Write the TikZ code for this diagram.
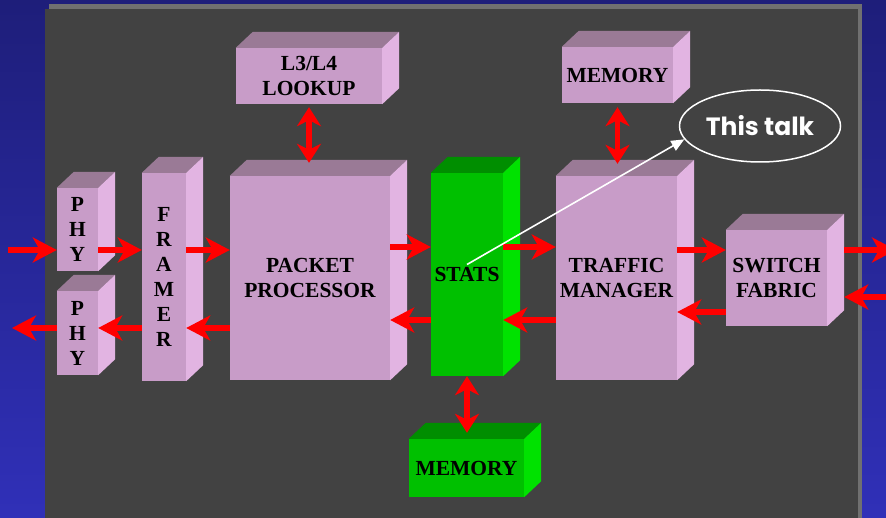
\documentclass[tikz,border=0pt]{standalone}
\usepackage{fontspec}
\setmainfont{Liberation Serif}
\newfontfamily\talkfont{Poppins}
\usetikzlibrary{arrows.meta,shapes.geometric}

\definecolor{slideblueA}{RGB}{30,30,122}
\definecolor{slideblueB}{RGB}{48,48,184}
\definecolor{panelgray}{RGB}{66,66,66}
\definecolor{panelrim}{RGB}{112,112,112}
\definecolor{pinkfront}{RGB}{200,156,200}
\definecolor{pinktop}{RGB}{154,122,150}
\definecolor{pinkside}{RGB}{226,180,226}
\definecolor{greenfront}{RGB}{0,192,0}
\definecolor{greentop}{RGB}{0,142,0}
\definecolor{greenside}{RGB}{0,226,0}

\tikzset{
    boxface/.style={inner sep=0pt, align=center, font=\bfseries\fontsize{21.5}{25}\selectfont},
    flow/.style={draw=red, line width=5.5pt, -{Stealth[length=24pt,width=25pt,inset=7pt]}},
    duplex/.style={draw=red, line width=5.5pt, {Stealth[length=19pt,width=24pt,inset=6pt]}-{Stealth[length=19pt,width=24pt,inset=6pt]}},
    talkbubble/.style={ellipse, draw=white, line width=1.5pt, minimum width=161pt, minimum height=72pt, inner sep=0pt, text=white, font=\talkfont\bfseries\fontsize{25}{28}\selectfont},
    pointer/.style={draw=white, line width=1.6pt, -{Triangle[length=13pt,width=11pt]}}
}

\newcommand{\cuboid}[7]{
    % #1 name, #2 x, #3 y, #4 width, #5 height, #6 colour set, #7 text
    \def\depthX{17}
    \def\depthY{16}
    \node[boxface, fill=#6front, minimum width=#4pt, minimum height=#5pt] (#1) at (#2,#3) {#7};
    % top and right faces
    \fill[#6top] (#1.north west) -- ++(\depthX,-\depthY) -- ([shift={(\depthX,-\depthY)}]#1.north east) -- (#1.north east) -- cycle;
    \fill[#6side] (#1.north east) -- ++(\depthX,-\depthY) -- ([shift={(\depthX,-\depthY)}]#1.south east) -- (#1.south east) -- cycle;
}

\begin{document}
\begin{tikzpicture}[x=1pt, y=-1pt]
    \useasboundingbox (0,0) rectangle (886,518);

    % slide background
    \shade[top color=slideblueA, bottom color=slideblueB] (0,0) rectangle (886,518);
    \fill[panelrim] (49,4) rectangle (862,518);
    \fill[panelgray] (45,9) rectangle (858,518);

    \cuboid{phyA}{77.5}{229.5}{41}{83}{pink}{P\\H\\Y}
    \cuboid{phyB}{77.5}{333}{41}{84}{pink}{P\\H\\Y}
    \cuboid{framer}{164}{277}{44}{208}{pink}{F\\R\\A\\M\\E\\R}
    \cuboid{lookup}{309}{76}{146}{56}{pink}{L3/L4\\LOOKUP}
    \cuboid{pp}{310}{278}{160}{204}{pink}{PACKET\\PROCESSOR}
    \cuboid{stats}{467}{274.5}{72}{203}{green}{STATS}
    \cuboid{tm}{616.5}{278}{121}{204}{pink}{TRAFFIC\\MANAGER}
    \cuboid{memT}{617.5}{75}{111}{56}{pink}{MEMORY}
    \cuboid{sf}{776.5}{278}{101}{96}{pink}{SWITCH\\FABRIC}
    \cuboid{memB}{466.5}{468}{115}{58}{green}{MEMORY}

    \node[talkbubble] (talk) at (760,126) {This talk};

    % lanes for the data path
    \coordinate (fwdlane) at (0,250);
    \coordinate (midfwd) at (0,247);
    \coordinate (backL) at (0,328);
    \coordinate (backM) at (0,320);
    \coordinate (backR) at (0,312);
    \coordinate (sfin) at (0,297);
    \coordinate (wireIn) at (8,250);
    \coordinate (wireOut) at (12,328);
    \coordinate (fabOut) at (896,250);
    \coordinate (fabIn) at (890,297);
    \coordinate (sfback) at ([xshift=17pt]sf.east);

    \draw[flow] (wireIn) -- (phyA.west |- fwdlane);
    \draw[flow] (phyA.east |- fwdlane) -- (framer.west |- fwdlane);
    \draw[flow] (framer.east |- fwdlane) -- (pp.west |- fwdlane);
    \draw[flow] (pp.east |- midfwd) -- (stats.west |- midfwd);
    \draw[flow] (stats.east |- midfwd) -- (tm.west |- midfwd);
    \draw[flow] (tm.east |- fwdlane) -- (sf.west |- fwdlane);
    \draw[flow] (sfback |- fwdlane) -- (fabOut);

    \draw[flow] (fabIn) -- (sfback |- sfin);
    \draw[flow] (sf.west |- backR) -- (tm.east |- backR);
    \draw[flow] (tm.west |- backM) -- (stats.east |- backM);
    \draw[flow] (stats.west |- backM) -- (pp.east |- backM);
    \draw[flow] (pp.west |- backL) -- (framer.east |- backL);
    \draw[flow] (framer.west |- backL) -- (phyB.east |- backL);
    \draw[flow] (phyB.west |- backL) -- (wireOut);

    \draw[duplex, shorten <=3pt, shorten >=13pt] (lookup.south) -- (lookup.south |- pp.north);
    \draw[duplex, shorten <=4pt, shorten >=12pt] (memT.south) -- (memT.south |- tm.north);
    \draw[duplex, shorten >=6pt] (stats.south) -- (stats.south |- memB.north);

    \draw[pointer] ([yshift=10pt]stats.center) -- (talk.190);
\end{tikzpicture}
\end{document}
